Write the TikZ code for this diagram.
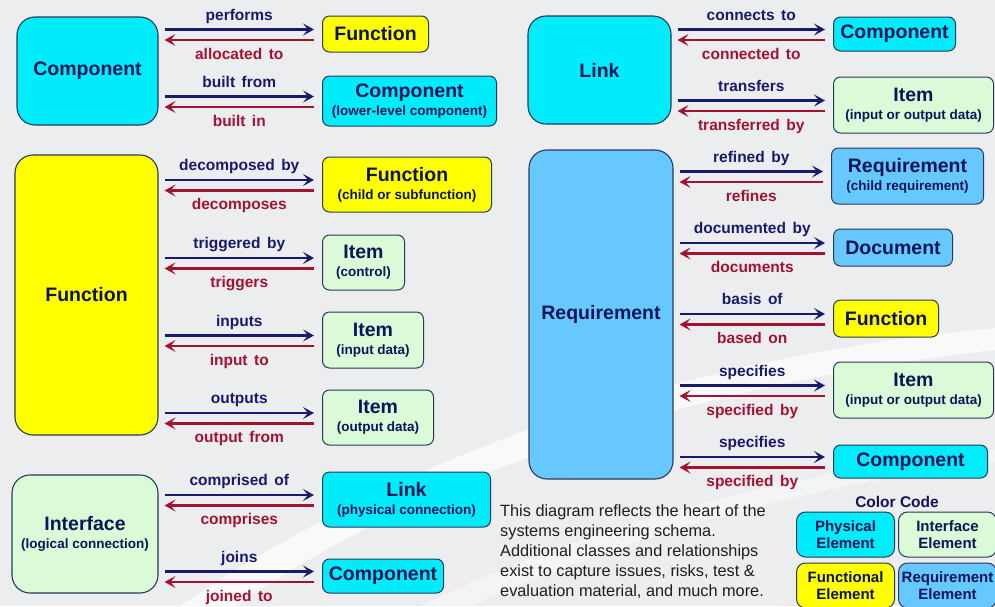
\documentclass[tikz,border=0pt]{standalone}
\usepackage{fontspec}
\setmainfont{Liberation Sans}
\usetikzlibrary{arrows.meta,calc}

\definecolor{bg}{RGB}{236,237,238}
\definecolor{phys}{RGB}{0,236,250}
\definecolor{func}{RGB}{255,255,0}
\definecolor{intf}{RGB}{218,250,216}
\definecolor{reqc}{RGB}{102,200,255}
\definecolor{edge}{RGB}{40,58,88}
\definecolor{navy}{RGB}{14,20,88}
\definecolor{fwdc}{RGB}{24,26,108}
\definecolor{bwdc}{RGB}{164,18,50}
\definecolor{prose}{RGB}{30,30,30}

\newcommand\ttlfnt{\fontsize{19.5}{21}\selectfont\bfseries}
\newcommand\subfnt{\fontsize{13.5}{15}\selectfont\bfseries}
\newcommand\lblfnt{\fontsize{15.5}{17}\selectfont\bfseries\spaceskip=0.42em}
\newcommand\keyfnt{\fontsize{15}{16.5}\selectfont\bfseries}
\newcommand\twoline[2]{#1\\[-3pt]{\subfnt #2}}

% forward / backward relationship pair between a class box and a target box
\newcommand\relate[4]{%
  \coordinate (bs) at ($(#2.west -| #1.east)+(6,-4.5)$);
  \coordinate (be) at ($(#2.west)+(-8,-4.5)$);
  \coordinate (rs) at ($(#2.west)+(-8,6)$);
  \coordinate (re) at ($(#2.west -| #1.east)+(6,6)$);
  \draw[fwd] (bs) -- (be) node[midway, lbl, text=fwdc, yshift=13pt] {#3};
  \draw[bwd] (rs) -- (re) node[midway, lbl, text=bwdc, yshift=-15.5pt] {#4};
}

\begin{document}
\begin{tikzpicture}[x=1pt,y=-1pt,
  bigbox/.style={draw=edge, line width=1.1pt, rounded corners=18pt,
    text=navy, font=\ttlfnt, align=center, inner sep=2pt},
  smallbox/.style={draw=edge, line width=1pt, rounded corners=7pt,
    text=navy, font=\ttlfnt, align=center, inner sep=2pt, anchor=west},
  keybox/.style={draw=edge, line width=1pt, rounded corners=9pt,
    text=navy, font=\keyfnt, align=center, inner sep=1pt,
    minimum width=98pt, minimum height=45pt},
  lbl/.style={font=\lblfnt, inner sep=0pt, text height=11pt, text depth=3.5pt},
  fwd/.style={draw=fwdc, line width=2.2pt,
    -{Stealth[length=11pt,width=12pt,inset=5pt]}},
  bwd/.style={draw=bwdc, line width=2.2pt,
    -{Stealth[length=11pt,width=12pt,inset=5pt]}}]

\useasboundingbox (0,0) rectangle (995,606);
\clip (0,0) rectangle (995,606);
\fill[bg] (0,0) rectangle (995,606);

% soft white swooshes in the backdrop
\fill[white, opacity=0.7]
  (180,606) .. controls (380,470) and (650,360) .. (995,328)
  -- (995,350) .. controls (680,385) and (420,480) .. (235,606) -- cycle;
\fill[white, opacity=0.4]
  (420,606) .. controls (600,520) and (800,470) .. (995,450)
  -- (995,462) .. controls (800,485) and (620,540) .. (470,606) -- cycle;

% ---------------- left column ----------------
\node[bigbox, fill=phys, minimum width=141pt, minimum height=108pt]
  (cmp) at (87.5,71) {Component};
\node[smallbox, fill=func, minimum width=106pt, minimum height=36pt]
  (fnA) at (322,34) {Function};
\node[smallbox, fill=phys, minimum width=174pt, minimum height=50pt]
  (cmpA) at (322,101) {\twoline{Component}{(lower-level component)}};
\relate{cmp}{fnA}{performs}{allocated to}
\relate{cmp}{cmpA}{built from}{built in}

\node[bigbox, fill=func, minimum width=143pt, minimum height=280pt]
  (fun) at (86.5,295) {Function};
\node[smallbox, fill=func, minimum width=169pt, minimum height=55pt]
  (fnB) at (322,184.5) {\twoline{Function}{(child or subfunction)}};
\node[smallbox, fill=intf, minimum width=82pt, minimum height=55pt]
  (itC) at (322,262.5) {\twoline{Item}{(control)}};
\node[smallbox, fill=intf, minimum width=101pt, minimum height=56pt]
  (itIn) at (322,340) {\twoline{Item}{(input data)}};
\node[smallbox, fill=intf, minimum width=111pt, minimum height=55pt]
  (itOut) at (322,417.5) {\twoline{Item}{(output data)}};
\relate{fun}{fnB}{decomposed by}{decomposes}
\relate{fun}{itC}{triggered by}{triggers}
\relate{fun}{itIn}{inputs}{input to}
\relate{fun}{itOut}{outputs}{output from}

\node[bigbox, fill=intf, minimum width=146pt, minimum height=118pt]
  (ifc) at (85,534) {\twoline{Interface}{(logical connection)}};
\node[smallbox, fill=phys, minimum width=168pt, minimum height=55pt]
  (lnkA) at (322,499.5) {\twoline{Link}{(physical connection)}};
\node[smallbox, fill=phys, minimum width=121pt, minimum height=34pt]
  (cmpB) at (322,576) {Component};
\relate{ifc}{lnkA}{comprised of}{comprises}
\relate{ifc}{cmpB}{joins}{joined to}

% ---------------- right column ----------------
\node[bigbox, fill=phys, minimum width=143pt, minimum height=108pt]
  (lnk) at (599.5,70) {Link};
\node[smallbox, fill=phys, minimum width=122pt, minimum height=34pt]
  (cmpR) at (833,34) {Component};
\node[smallbox, fill=intf, minimum width=160pt, minimum height=56pt]
  (itR) at (833,105) {\twoline{Item}{(input or output data)}};
\relate{lnk}{cmpR}{connects to}{connected to}
\relate{lnk}{itR}{transfers}{transferred by}

\node[bigbox, fill=reqc, minimum width=144pt, minimum height=329pt]
  (req) at (601,314.5) {Requirement};
\node[smallbox, fill=reqc, minimum width=152pt, minimum height=56pt]
  (reqR) at (831,176) {\twoline{Requirement}{(child requirement)}};
\node[smallbox, fill=reqc, minimum width=119pt, minimum height=37pt]
  (docR) at (833,247.5) {Document};
\node[smallbox, fill=func, minimum width=105pt, minimum height=37pt]
  (fnR) at (833,318.5) {Function};
\node[smallbox, fill=intf, minimum width=160pt, minimum height=56pt]
  (itR2) at (833,390) {\twoline{Item}{(input or output data)}};
\node[smallbox, fill=phys, minimum width=154pt, minimum height=33pt]
  (cmpR2) at (833,461.5) {Component};
\relate{req}{reqR}{refined by}{refines}
\relate{req}{docR}{documented by}{documents}
\relate{req}{fnR}{basis of}{based on}
\relate{req}{itR2}{specifies}{specified by}
\relate{req}{cmpR2}{specifies}{specified by}

% ---------------- note and colour key ----------------
\node[anchor=north west, align=left, text=prose, inner sep=0pt,
  font=\fontsize{16.3}{20.2}\selectfont] (note) at (500,504)
  {This diagram reflects the heart of the\\
   systems engineering schema.\\
   Additional classes and relationships\\
   exist to capture issues, risks, test \&\\
   evaluation material, and much more.};

\node[text=navy, font=\fontsize{15.5}{17}\selectfont\bfseries, inner sep=0pt]
  (key) at (897,502) {Color Code};
\node[keybox, fill=phys] (kPhys) at (845.5,534.5) {Physical\\Element};
\node[keybox, fill=intf] (kIntf) at (947.5,534.5) {Interface\\Element};
\node[keybox, fill=func] (kFunc) at (845.5,585.5) {Functional\\Element};
\node[keybox, fill=reqc] (kReq) at (947.5,585.5) {Requirement\\Element};

\end{tikzpicture}
\end{document}
